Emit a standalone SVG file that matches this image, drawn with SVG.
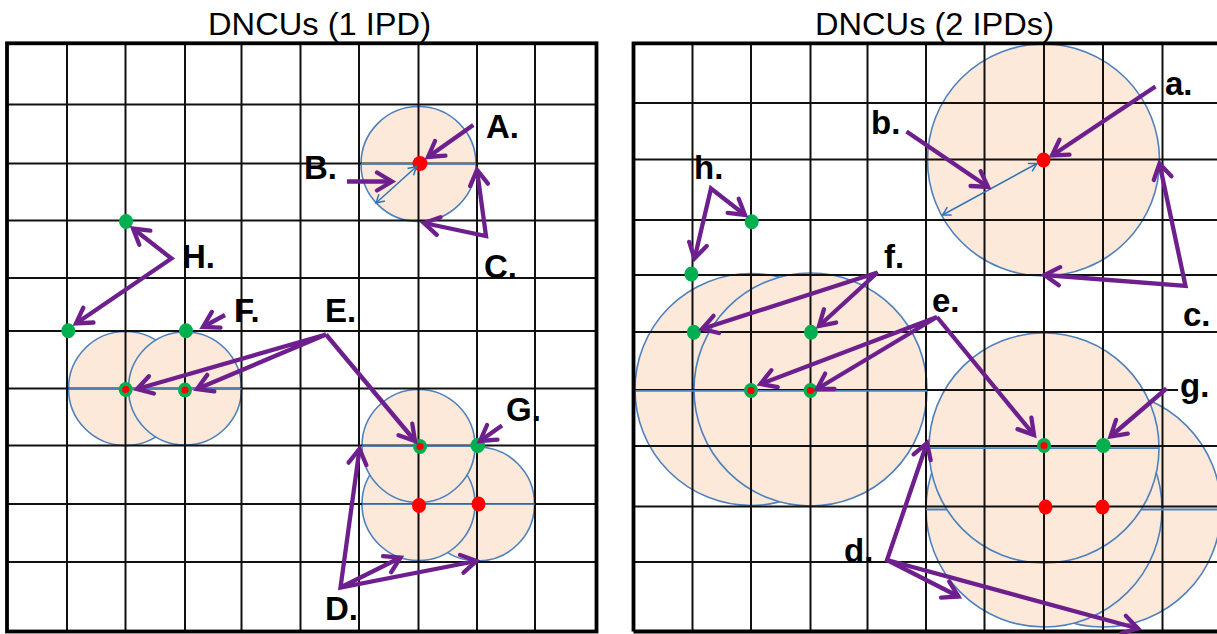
<svg xmlns="http://www.w3.org/2000/svg" width="1217" height="634" viewBox="0 0 1217 634">
<style>
.circ{fill:#fde9d9;stroke:#4f81bd;stroke-width:1.6}
.grid{fill:none;stroke:#111;stroke-width:2}
.border{fill:none;stroke:#000;stroke-width:3.8}
.diam{stroke:#4f81bd;stroke-width:1.8;fill:none}
.g{fill:#00b050}
.r{fill:#ff0000}
.arr{fill:none;stroke:#6e1f8e;stroke-width:4.3;stroke-linejoin:miter;marker-end:url(#ah)}
.arr2{marker-start:url(#ah)}
.barr{fill:none;stroke:#2e75b6;stroke-width:1.5;marker-start:url(#bh);marker-end:url(#bh)}
.lbl{font-family:"Liberation Sans",Arial,sans-serif;font-weight:bold;font-size:33px;fill:#000}
.ttl{font-family:"Liberation Sans",Arial,sans-serif;font-size:32px;fill:#000}
</style>
<defs>
<marker id="ah" viewBox="-19 -12 24 24" refX="0" refY="0" markerWidth="24" markerHeight="24" markerUnits="userSpaceOnUse" orient="auto-start-reverse">
<path d="M-15,-9 L0,0 L-15,9" fill="none" stroke="#6e1f8e" stroke-width="4.3" stroke-linecap="round"/>
</marker>
<marker id="bh" viewBox="-10 -6 12 12" refX="0" refY="0" markerWidth="12" markerHeight="12" markerUnits="userSpaceOnUse" orient="auto-start-reverse">
<path d="M-8,-4.5 L0,0 L-8,4.5" fill="none" stroke="#2e75b6" stroke-width="1.5"/>
</marker>
</defs>
<rect x="0" y="0" width="1217" height="634" fill="#fff"/>

<text class="ttl" x="208" y="34.5" textLength="223" lengthAdjust="spacingAndGlyphs">DNCUs (1 IPD)</text>
<text class="ttl" x="815" y="34.5" textLength="239" lengthAdjust="spacingAndGlyphs">DNCUs (2 IPDs)</text>

<!-- circles left -->
<g id="circleA"><circle class="circ" cx="418.5" cy="164" r="57.5"/></g>
<g id="circleF1"><circle class="circ" cx="125.5" cy="388.5" r="57"/></g>
<g id="circleF2"><circle class="circ" cx="185" cy="388.5" r="56.5"/></g>
<g id="circleLR"><circle class="circ" cx="477.5" cy="504" r="57"/></g>
<g id="circleLL"><circle class="circ" cx="418.5" cy="504" r="56.5"/></g>
<g id="circleLT"><circle class="circ" cx="418.5" cy="446" r="56.5"/></g>
<!-- circles right -->
<g id="circle-a"><circle class="circ" cx="1043.5" cy="160" r="116"/></g>
<g id="circle-f1"><circle class="circ" cx="751" cy="389.5" r="116"/></g>
<g id="circle-f2"><circle class="circ" cx="810.5" cy="389.5" r="116.5"/></g>
<g id="circle-rLR"><circle class="circ" cx="1103" cy="509" r="118"/></g>
<g id="circle-rLL"><circle class="circ" cx="1044" cy="509" r="118"/></g>
<g id="circle-rT"><circle class="circ" cx="1044" cy="448" r="115"/></g>

<!-- grids -->
<path class="grid" d="M67,43.3V631.5M125.5,43.3V631.5M185,43.3V631.5M241.5,43.3V631.5M300.5,43.3V631.5M359,43.3V631.5M418.5,43.3V631.5M477,43.3V631.5M535,43.3V631.5
M7,104.5H596.5M7,163.5H596.5M7,220.5H596.5M7,278H596.5M7,331H596.5M7,388.5H596.5M7,445.5H596.5M7,504H596.5M7,562H596.5"/>
<path class="grid" d="M692.5,43.3V631.5M751,43.3V631.5M810.5,43.3V631.5M867.5,43.3V631.5M926,43.3V631.5M984.5,43.3V631.5M1044,43.3V631.5M1103,43.3V631.5M1162.5,43.3V631.5
M633.5,103H1217M633.5,159.5H1217M633.5,220H1217M633.5,275H1217M633.5,332H1217M633.5,390H1217M633.5,446H1217M633.5,506.5H1217M633.5,562H1217"/>

<!-- diameters -->
<path class="diam" d="M361,163.8H476M68.5,388.8H241.5M362,446.2H475M362,504.2H534.5M635,390.8H927M929,448.2H1159M926,509.5H947M1141,509.5H1217"/>

<!-- borders -->
<rect class="border" x="7" y="43.3" width="589.5" height="588.2"/>
<path class="border" d="M633.5,631.5V43.3H1217M633.5,631.5H1217"/>

<!-- dots -->
<g id="dots-left">
<circle class="r" cx="420" cy="163.5" r="7.5"/>
<ellipse class="g" cx="126" cy="221.5" rx="7" ry="7.5"/>
<ellipse class="g" cx="68.3" cy="330.7" rx="7" ry="7.5"/>
<ellipse class="g" cx="186" cy="330.7" rx="7" ry="7.5"/>
<ellipse class="g" cx="125.7" cy="389.5" rx="7" ry="7.5"/><circle class="r" cx="125.7" cy="389.5" r="3.6"/>
<ellipse class="g" cx="185" cy="390" rx="7" ry="7.5"/><circle class="r" cx="185" cy="390" r="3.6"/>
<ellipse class="g" cx="420" cy="446.5" rx="7" ry="7.5"/><circle class="r" cx="420" cy="446.5" r="3.6"/>
<ellipse class="g" cx="477.7" cy="445.5" rx="7.3" ry="7.5"/>
<ellipse class="r" cx="419" cy="505.5" rx="7" ry="7.5"/>
<ellipse class="r" cx="478.5" cy="504" rx="7" ry="7.5"/>
</g>
<g id="dots-right">
<ellipse class="r" cx="1043.5" cy="160" rx="7" ry="7.5"/>
<ellipse class="g" cx="751.7" cy="221.7" rx="7" ry="7.5"/>
<ellipse class="g" cx="691.4" cy="274" rx="7" ry="7.5"/>
<ellipse class="g" cx="693.8" cy="332.3" rx="7" ry="7.5"/>
<ellipse class="g" cx="811" cy="332.3" rx="7" ry="7.5"/>
<ellipse class="g" cx="751" cy="390.5" rx="7" ry="7.5"/><circle class="r" cx="751" cy="390.5" r="3.6"/>
<ellipse class="g" cx="810.5" cy="390.5" rx="7" ry="7.5"/><circle class="r" cx="810.5" cy="390.5" r="3.6"/>
<ellipse class="g" cx="1044" cy="445.5" rx="7" ry="7.5"/><circle class="r" cx="1044" cy="445.5" r="3.6"/>
<ellipse class="g" cx="1103.3" cy="445.5" rx="7.3" ry="7.5"/>
<ellipse class="r" cx="1045.5" cy="507" rx="7" ry="7.5"/>
<ellipse class="r" cx="1102.5" cy="507" rx="7" ry="7.5"/>
</g>

<!-- connectors -->
<g id="connectors">
<line class="barr" x1="416.5" y1="166.5" x2="376" y2="203"/>
<line class="barr" x1="1037" y1="163.5" x2="942.5" y2="215"/>
<path class="arr" d="M473.3,125 L428,157"/>
<path class="arr" d="M347,181.5 L392,181.5"/>
<path class="arr arr2" d="M477,170 L486,236 L424,223"/>
<path class="arr arr2" d="M133,228.5 L171.5,258.5 L76,323.5"/>
<path class="arr" d="M225,315 L203,327"/>
<path class="arr arr2" d="M137,389 L326,334.5 L197,389"/>
<path class="arr" d="M326,334.5 L415,441"/>
<path class="arr" d="M502,425.5 L480,441"/>
<path class="arr arr2" d="M359.5,449 L340.5,587.5 L476.5,561"/>
<path class="arr" d="M340.5,587.5 L400.5,557.5"/>
<path class="arr" d="M1155.5,86.5 L1052,155.5"/>
<path class="arr" d="M906.5,131.5 L988,187"/>
<path class="arr arr2" d="M1159.5,163.5 L1185.5,286 L1044.5,275"/>
<path class="arr arr2" d="M745,215 L711,188.5 L694.5,258.5"/>
<path class="arr arr2" d="M702,329 L877.5,272.5 L819,326"/>
<path class="arr arr2" d="M760.5,384 L937,317 L817,389"/>
<path class="arr" d="M937,317 L1034,435"/>
<path class="arr" d="M1166.5,388.5 L1110.5,436.5"/>
<path class="arr arr2" d="M927,443 L887,560 L1138,628.5"/>
<path class="arr" d="M887,560 L958.5,596.5"/>
</g>

<!-- labels -->
<g id="label-A"><text class="lbl" x="486" y="137.5">A.</text></g>
<g id="label-B"><text class="lbl" x="304" y="179">B.</text></g>
<g id="label-C"><text class="lbl" x="484" y="277.5">C.</text></g>
<g id="label-H"><text class="lbl" x="182" y="267.5">H.</text></g>
<g id="label-F"><text class="lbl" x="234" y="322">F.</text></g>
<g id="label-E"><text class="lbl" x="325" y="322">E.</text></g>
<g id="label-G"><text class="lbl" x="506" y="421">G.</text></g>
<g id="label-D"><text class="lbl" x="325" y="619.5">D.</text></g>
<g id="label-a"><text class="lbl" x="1165" y="95">a.</text></g>
<g id="label-b"><text class="lbl" x="871" y="133.5">b.</text></g>
<g id="label-h"><text class="lbl" x="694" y="178.5">h.</text></g>
<g id="label-f"><text class="lbl" x="884" y="267.5">f.</text></g>
<g id="label-e"><text class="lbl" x="932" y="312">e.</text></g>
<g id="label-c"><text class="lbl" x="1183" y="325.5">c.</text></g>
<g id="label-g"><rect x="1178" y="376" width="39" height="30" fill="#fff"/><text class="lbl" x="1180" y="396.5">g.</text></g>
<g id="label-d"><text class="lbl" x="844" y="562">d.</text></g>
</svg>
